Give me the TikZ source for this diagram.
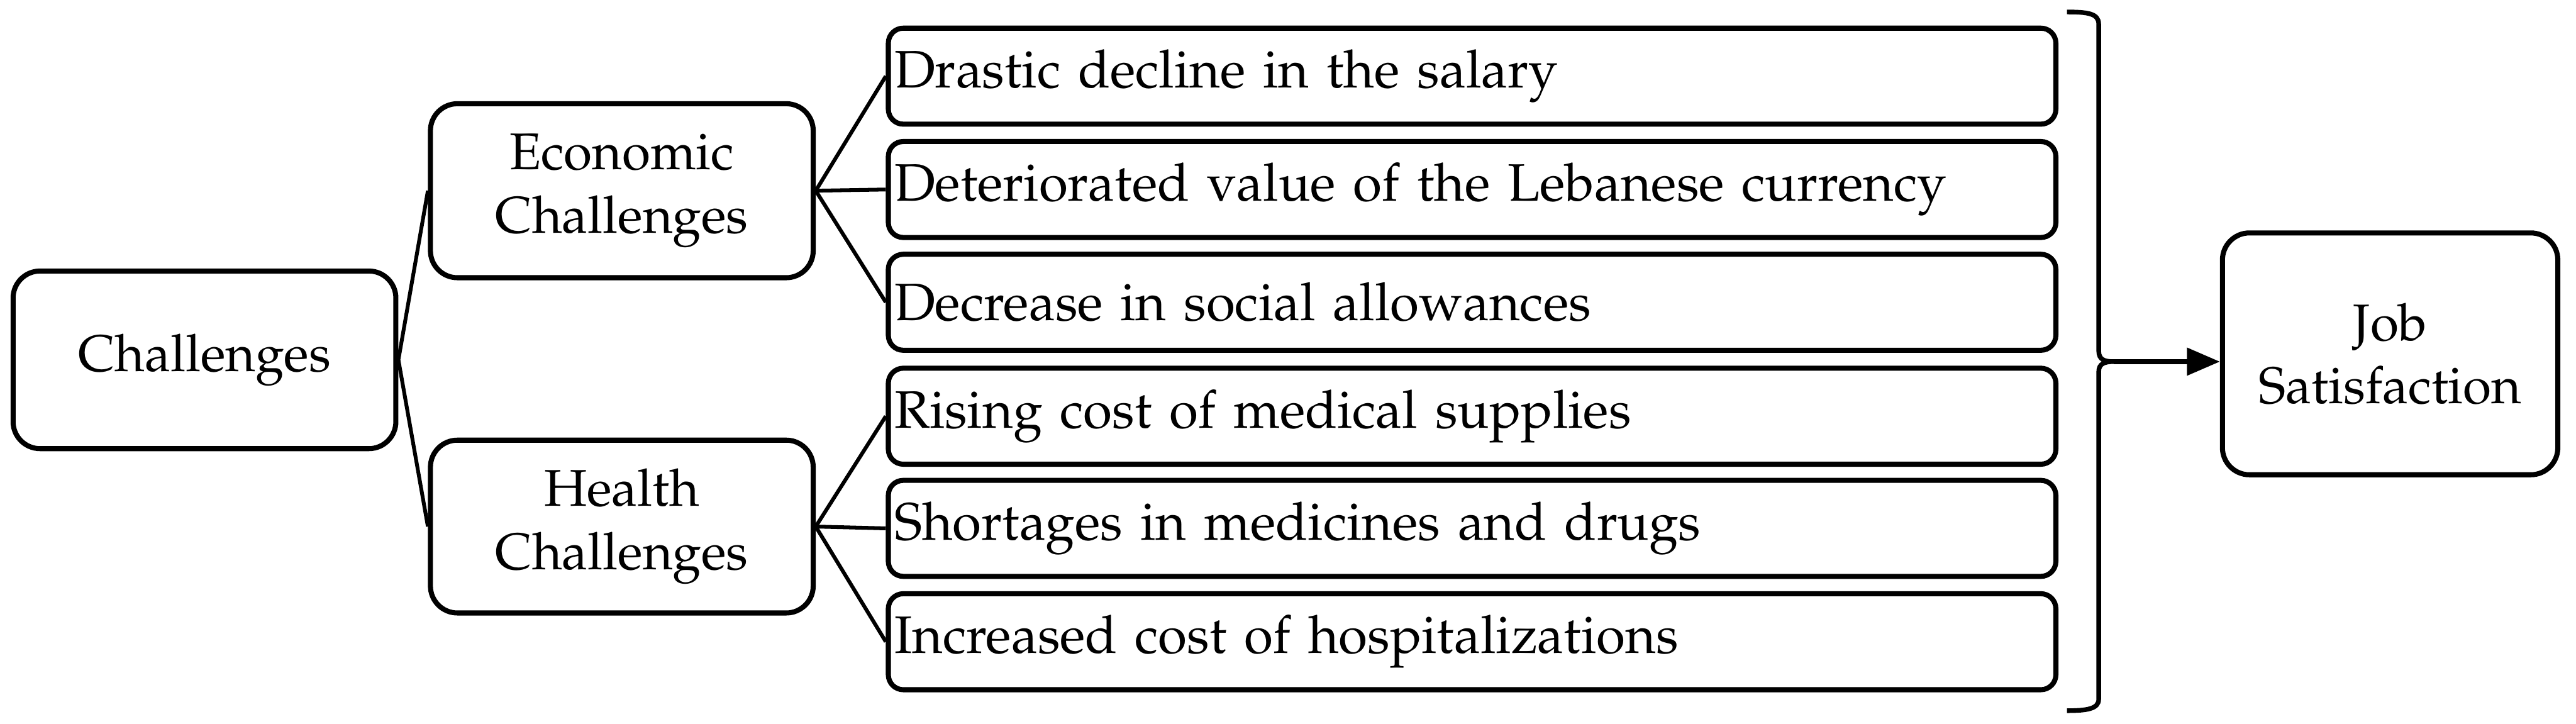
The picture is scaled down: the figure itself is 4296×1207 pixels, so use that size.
\documentclass[tikz,border=0pt]{standalone}
\usepackage[T1]{fontenc}
\usepackage{mathpazo}
\usetikzlibrary{arrows.meta}
\begin{document}
\begin{tikzpicture}[x=0.01cm,y=-0.01cm,
  box/.style={draw=black,line width=2.4pt,rounded corners=0.45cm,align=center,
    font=\fontsize{24.5}{30}\selectfont,inner sep=0pt},
  item/.style={draw=black,line width=2.4pt,rounded corners=0.25cm,
    minimum width=19.46cm,minimum height=1.6cm,text width=19.26cm,align=left,
    inner xsep=0.1cm,inner ysep=0pt,font=\fontsize{25}{30}\selectfont},
  link/.style={line width=1.8pt}]
\useasboundingbox (0,0) rectangle (4296,1207);
\node[box,minimum width=6.38cm,minimum height=2.96cm] (chal) at (341,600) {Challenges};
\node[box,minimum width=6.38cm,minimum height=2.90cm] (eco) at (1037,318) {Economic\\Challenges};
\node[box,minimum width=6.38cm,minimum height=2.88cm] (hea) at (1037,878) {Health\\Challenges};
\node[item] (r1) at (2455,127) {Drastic decline in the salary};
\node[item] (r2) at (2455,316) {Deteriorated value of the Lebanese currency};
\node[item] (r3) at (2455,504) {Decrease in social allowances};
\node[item] (r4) at (2455,694) {Rising cost of medical supplies};
\node[item] (r5) at (2455,881) {Shortages in medicines and drugs};
\node[item] (r6) at (2455,1070) {Increased cost of hospitalizations};
\node[box,minimum width=5.59cm,minimum height=4.03cm] (job) at (3986,590) {Job\\Satisfaction};
\draw[link] (chal.east) -- (eco.west);
\draw[link] (chal.east) -- (hea.west);
\foreach \r in {r1,r2,r3} \draw[link] (eco.east) -- (\r.west);
\foreach \r in {r4,r5,r6} \draw[link] (hea.east) -- (\r.west);
\coordinate (tip) at (3525,603);
\draw[line width=2.2pt] (3447,20) .. controls (3480,20) and (3500,22) .. (3500,40) -- (3500,585)
  .. controls (3500,600) and (3510,603) .. (tip)
  .. controls (3510,603) and (3500,606) .. (3500,620) -- (3500,1166)
  .. controls (3500,1182) and (3480,1185) .. (3447,1185);
\draw[line width=2.2pt,-{Triangle[length=0.55cm,width=0.45cm]}] (tip) -- (tip -| job.west);
\end{tikzpicture}
\end{document}
